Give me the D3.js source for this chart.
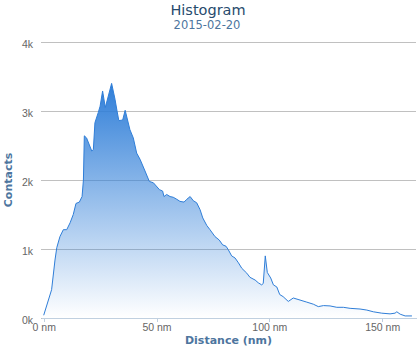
<!DOCTYPE html>
<html>
<head>
<meta charset="utf-8">
<script src="https://cdn.jsdelivr.net/npm/d3@7"></script>
<style>
  body { margin: 0; background: #fff; }
  svg { font-family: "DejaVu Sans", Verdana, sans-serif; display: block; }
</style>
</head>
<body>
<svg width="420" height="347"></svg>
<script>
// distance in nm and contact counts
const distances = [0, 3.5, 5, 5.8, 7.2, 8.7, 10.2, 11.7, 13.1, 14.3, 15.8, 17, 17.6, 18, 19,
    21.3, 22, 22.7, 24.2, 25, 26.1, 27.3, 30.1, 31.6, 32.5, 33.3, 35, 36.1, 38.2, 39.7,
    41.2, 42.7, 44.9, 46.8, 48.6, 51.3, 52.7, 53.3, 54.5, 56, 57.4, 59, 60.4, 62.2, 63.4,
    64.9, 66.3, 67.8, 69.3, 70.5, 72.3, 73.7, 75.9, 77.8, 79.3, 80.8, 81.8, 83.3, 84.8,
    86.3, 87.8, 90, 91.4, 93.7, 95.1, 96.6, 97.3, 98.2, 99.1, 100.6, 101.8, 103.3, 104.6,
    106.1, 108.4, 110.6, 113.6, 116.6, 119.5, 121.7, 124, 126.9, 129.9, 132.8, 135.8,
    140.2, 143.2, 146.1, 149.8, 153.5, 155.7, 156.5, 158, 160.2, 163.2];
const contacts = [40, 410, 840, 1020, 1180, 1280, 1280, 1380, 1500, 1660, 1680, 1760, 2000, 2640, 2610,
    2420, 2440, 2830, 2980, 3070, 3290, 3050, 3400, 3170, 3000, 2860, 2870, 3010, 2730, 2610,
    2390, 2300, 2130, 1980, 1960, 1860, 1840, 1760, 1790, 1760, 1750, 1720, 1690, 1680, 1720,
    1760, 1700, 1670, 1570, 1450, 1340, 1280, 1180, 1130, 1060, 1040, 990, 900, 870,
    800, 720, 650, 590, 550, 510, 480, 500, 900, 660, 580, 480, 450, 340,
    310, 240, 290, 260, 230, 200, 165, 180, 175, 155, 155, 140,
    130, 115, 90, 70, 60, 70, 90, 55, 30, 30];

const xTicks = [0, 50, 100, 150];
const xTickLabels = ["0 nm", "50 nm", "100 nm", "150 nm"];
const yTicks = [0, 1000, 2000, 3000, 4000];
const yTickLabels = ["0k", "1k", "2k", "3k", "4k"];

document.addEventListener("DOMContentLoaded", function() {
    const svg = d3.select("svg");
    const margin = {top: 42, right: 4, bottom: 29, left: 41};
    const width = +svg.attr("width") - margin.left - margin.right;
    const height = +svg.attr("height") - margin.top - margin.bottom;

    const data = distances.map((d, i) => ({x: d, y: contacts[i]}));

    const x = d3.scaleLinear().domain([-1.2, 165]).range([0, width]);
    const y = d3.scaleLinear().domain([0, 4000]).range([height, 0]);

    // gradient for the area, top of series down to zero
    const grad = svg.append("defs").append("linearGradient")
        .attr("id", "fillGrad")
        .attr("gradientUnits", "userSpaceOnUse")
        .attr("x1", 0).attr("x2", 0)
        .attr("y1", margin.top + y(d3.max(contacts)))
        .attr("y2", margin.top + y(0));
    grad.append("stop").attr("offset", 0).attr("stop-color", "#2f7ed8").attr("stop-opacity", 1);
    grad.append("stop").attr("offset", 1).attr("stop-color", "#2f7ed8").attr("stop-opacity", 0);

    const g = svg.append("g").attr("transform", `translate(${margin.left},${margin.top})`);

    // grid lines + y labels
    const yAxis = g.append("g")
        .call(d3.axisLeft(y).tickValues(yTicks).tickSize(-width)
            .tickFormat((d, i) => yTickLabels[i]));
    yAxis.select(".domain").remove();
    yAxis.selectAll(".tick line").attr("stroke", "#C0C0C0").attr("shape-rendering", "crispEdges");
    yAxis.selectAll(".tick text")
        .attr("x", -8).attr("dy", "0.52em")
        .attr("fill", "#666").style("font-size", "10.5px");

    // area + line
    g.append("path")
        .datum(data)
        .attr("fill", "url(#fillGrad)")
        .attr("transform", `translate(0,${-margin.top})`)
        .attr("d", d3.area().x(d => x(d.x)).y0(y(0) + margin.top).y1(d => y(d.y) + margin.top));

    g.append("path")
        .datum(data)
        .attr("fill", "none")
        .attr("stroke", "#2f7ed8")
        .attr("stroke-width", 1)
        .attr("stroke-linejoin", "round")
        .attr("d", d3.line().x(d => x(d.x)).y(d => y(d.y)));

    // x axis
    const xAxis = g.append("g")
        .attr("transform", `translate(0,${height})`)
        .call(d3.axisBottom(x).tickValues(xTicks).tickSize(4).tickSizeOuter(0)
            .tickFormat((d, i) => xTickLabels[i]));
    xAxis.select(".domain").attr("stroke", "#C0D0E0").attr("shape-rendering", "crispEdges");
    xAxis.selectAll(".tick line").attr("stroke", "#C0D0E0").attr("shape-rendering", "crispEdges");
    xAxis.selectAll(".tick text")
        .attr("y", 6).attr("dy", "0.71em")
        .attr("fill", "#666").style("font-size", "10.5px");

    // titles
    svg.append("text")
        .attr("x", 208).attr("y", 15)
        .attr("text-anchor", "middle")
        .attr("fill", "#274b6d")
        .style("font-size", "14.5px")
        .text("Histogram");

    svg.append("text")
        .attr("x", 207).attr("y", 29)
        .attr("text-anchor", "middle")
        .attr("fill", "#4d759e")
        .style("font-size", "11.5px")
        .text("2015-02-20");

    svg.append("text")
        .attr("x", margin.left + width / 2).attr("y", 344)
        .attr("text-anchor", "middle")
        .attr("fill", "#4d759e")
        .style("font-size", "11px")
        .style("font-weight", "bold")
        .text("Distance (nm)");

    svg.append("text")
        .attr("transform", `translate(11.5,${margin.top + height / 2}) rotate(-90)`)
        .attr("text-anchor", "middle")
        .attr("fill", "#4d759e")
        .style("font-size", "11px")
        .style("font-weight", "bold")
        .text("Contacts");
});
</script>
</body>
</html>
